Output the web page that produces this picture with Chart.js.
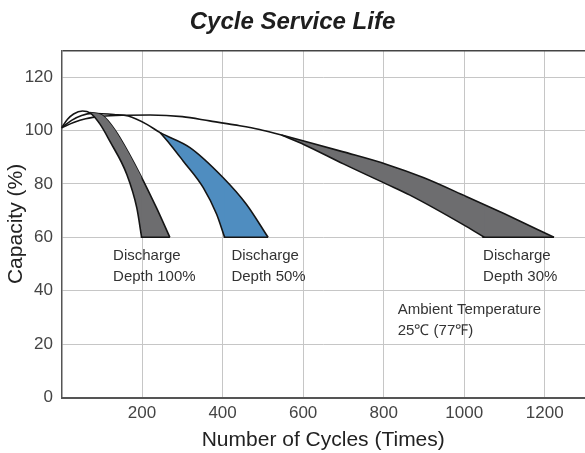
<!DOCTYPE html>
<html>
<head>
<meta charset="utf-8">
<script src="https://cdn.jsdelivr.net/npm/chart.js@4.4.1/dist/chart.umd.min.js"></script>
<style>
  html, body { margin: 0; padding: 0; background: #fff; }
  #wrap { width: 585px; height: 453px; }
</style>
</head>
<body>
<div id="wrap"><canvas id="mainChart" width="585" height="453"></canvas></div>
<script>
// axis ticks
const xTicks = [0, 200, 400, 600, 800, 1000, 1200];
const yTicks = [0, 20, 40, 60, 80, 100, 120];

// discharge depth 100% - outer (left) edge
const d100OuterX = [0, 15, 30, 52, 71, 96, 120, 162, 187, 199];
const d100OuterY = [101, 104.2, 106.2, 107.3, 106.6, 102.3, 96, 83.6, 71, 60];
// discharge depth 100% - inner (right) edge
const d100InnerX = [71, 100, 120, 145, 195, 236, 269];
const d100InnerY = [106.7, 105.8, 102.8, 97.3, 83.6, 71, 60];
// discharge depth 100% - bottom
const d100BaseX = [197, 269];
const d100BaseY = [60, 60];

// discharge depth 50% - upper edge
const d50UpperX = [0, 25, 50, 75, 100, 130, 166, 212, 245, 319, 401, 459, 513];
const d50UpperY = [101, 103.8, 105.6, 106.4, 106.3, 106, 105.4, 102.3, 99.2, 93.6, 82.4, 72.4, 60];
// discharge depth 50% - lower edge
const d50LowerX = [245, 270, 302, 352, 385, 405];
const d50LowerY = [99.2, 94.8, 88.6, 78.6, 68.7, 60];
const d50BaseX = [403, 513];
const d50BaseY = [60, 60];

// discharge depth 30% - upper edge
const d30UpperX = [0, 30, 60, 100, 150, 220, 300, 368, 430, 492, 546, 604, 700, 806, 900, 1005, 1100, 1223];
const d30UpperY = [101, 103, 104.4, 105.3, 105.7, 105.8, 105.2, 103.6, 102.1, 100.4, 98.3, 96, 92, 87.4, 82.3, 75.3, 68.8, 60];
// discharge depth 30% - lower edge
const d30LowerX = [546, 604, 700, 806, 864, 1005, 1050];
const d30LowerY = [98.3, 94.6, 87.5, 80, 75.9, 64.1, 60];
const d30BaseX = [1045, 1223];
const d30BaseY = [60, 60];

const notes = [
  {text: ['Discharge', 'Depth 100%'], x: 128, y: 53},
  {text: ['Discharge', 'Depth 50%'], x: 422, y: 53},
  {text: ['Discharge', 'Depth 30%'], x: 1047, y: 53},
  {text: ['Ambient Temperature', '25\u2103 (77\u2109)'], x: 835, y: 32.8}
];

function pts(xs, ys) {
  return xs.map((x, i) => ({x: x, y: ys[i]}));
}

function curve(xs, ys, fill, color) {
  return {
    data: pts(xs, ys),
    borderColor: '#151515',
    borderWidth: 1.6,
    pointRadius: 0,
    cubicInterpolationMode: 'monotone',
    fill: fill,
    backgroundColor: color
  };
}

const FONT = "'Liberation Sans', Arial, sans-serif";
const GRAY = '#6d6d6f';
const BLUE = '#4f8dc0';

const notesPlugin = {
  id: 'notes',
  afterDatasetsDraw(chart) {
    const ctx = chart.ctx;
    const xs = chart.scales.x, ys = chart.scales.y;
    ctx.save();
    ctx.fillStyle = '#333';
    ctx.font = '15px ' + FONT;
    ctx.textBaseline = 'middle';
    ctx.textAlign = 'left';
    notes.forEach(n => {
      const px = xs.getPixelForValue(n.x);
      const py = ys.getPixelForValue(n.y);
      n.text.forEach((t, i) => ctx.fillText(t, px, py + i * 20.5));
    });
    ctx.restore();
  }
};

const ctx = document.getElementById('mainChart').getContext('2d');
window.myChart = new Chart(ctx, {
  type: 'line',
  data: {
    datasets: [
      curve(d100OuterX, d100OuterY, 1, GRAY),
      curve(d100InnerX, d100InnerY, false, GRAY),
      curve(d100BaseX, d100BaseY, 1, GRAY),
      curve(d50UpperX, d50UpperY, false, BLUE),
      curve(d50LowerX, d50LowerY, 3, BLUE),
      curve(d50BaseX, d50BaseY, 3, BLUE),
      curve(d30UpperX, d30UpperY, false, GRAY),
      curve(d30LowerX, d30LowerY, 6, GRAY),
      curve(d30BaseX, d30BaseY, 6, GRAY)
    ]
  },
  options: {
    responsive: false,
    animation: false,
    layout: {padding: 0},
    plugins: {
      legend: {display: false},
      tooltip: {enabled: false},
      title: {
        display: true,
        text: 'Cycle Service Life',
        color: '#1e1e1e',
        font: {family: FONT, size: 24, weight: 'bold', style: 'italic'},
        padding: {top: 7.6, bottom: 14}
      }
    },
    scales: {
      x: {
        type: 'linear',
        min: 0,
        max: 1300,
        afterBuildTicks: s => { s.ticks = xTicks.map(v => ({value: v})); },
        afterFit: s => { s.height = 55.5; },
        ticks: {
          color: '#444',
          font: {family: FONT, size: 17},
          padding: 6,
          maxRotation: 0,
          callback: v => v === 0 ? '' : v
        },
        grid: {color: '#c6c6c6', lineWidth: 1, drawTicks: false},
        border: {display: true, color: '#555', width: 2},
        title: {
          display: true,
          text: 'Number of Cycles (Times)',
          color: '#222',
          font: {family: FONT, size: 21},
          padding: {top: 0, bottom: 0.5}
        }
      },
      y: {
        min: 0,
        max: 130,
        afterBuildTicks: s => { s.ticks = yTicks.concat([130]).map(v => ({value: v})); },
        afterFit: s => { s.width = 61.5; },
        ticks: {
          color: '#444',
          font: {family: FONT, size: 17},
          padding: 8.5,
          callback: v => v === 130 ? '' : v
        },
        grid: {
          color: c => c.tick && c.tick.value === 130 ? '#444' : '#c6c6c6',
          lineWidth: c => c.tick && c.tick.value === 130 ? 1.5 : 1,
          drawTicks: false
        },
        border: {display: true, color: '#555', width: 1.5},
        title: {
          display: true,
          text: 'Capacity (%)',
          color: '#222',
          font: {family: FONT, size: 21},
          padding: {top: 4, bottom: 0}
        }
      }
    }
  },
  plugins: [notesPlugin]
});
</script>
</body>
</html>
